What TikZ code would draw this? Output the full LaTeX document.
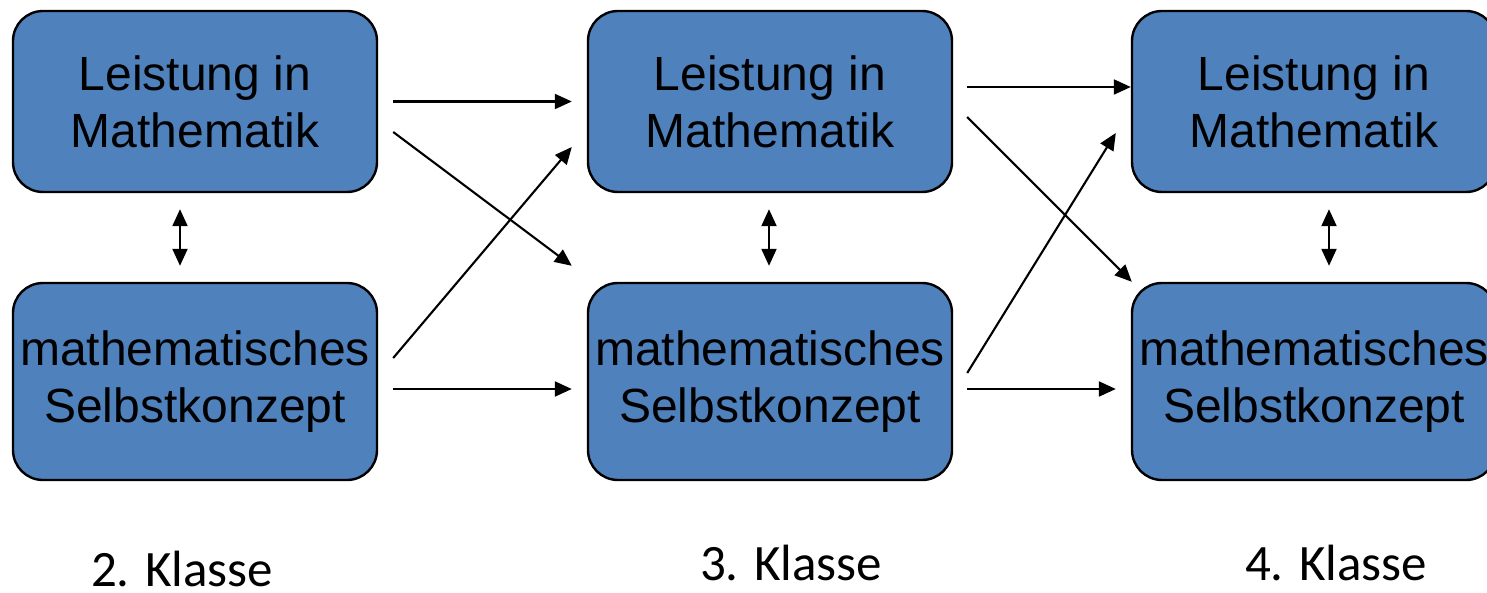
\documentclass[tikz,border=0pt]{standalone}
\usepackage{fontspec}
\setmainfont{Liberation Sans}
\newfontfamily\calibrifont{Carlito}
\usetikzlibrary{arrows.meta}
\definecolor{boxblue}{HTML}{4F81BD}
\tikzset{
  box/.style={draw=black, line width=1.2pt, fill=boxblue, rounded corners=15pt,
    minimum width=182pt, inner sep=0pt, align=center,
    font=\fontsize{24}{28.5}\selectfont},
  topbox/.style={box, minimum height=90.5pt},
  botbox/.style={box, minimum height=98.5pt},
  arr/.style={line width=1.05pt, -{Triangle[length=8.5pt,width=7.5pt]}},
  darr/.style={line width=1.05pt, {Triangle[length=8.5pt,width=7.5pt]}-{Triangle[length=8.5pt,width=7.5pt]}},
  klasse/.style={anchor=base, font=\calibrifont\fontsize{25.5}{30}\selectfont}
}
\begin{document}
\begin{tikzpicture}[x=0.5pt, y=-0.5pt]
\clip (0,0) rectangle (1487,593);
\fill[white] (0,0) rectangle (1487,593);
% boxes
\node[topbox] (L2) at (195,101.5) {Leistung in\\Mathematik};
\node[botbox] (S2) at (195,381.5) {mathematisches\\Selbstkonzept};
\node[topbox] (L3) at (770,101.5) {Leistung in\\Mathematik};
\node[botbox] (S3) at (770,381.5) {mathematisches\\Selbstkonzept};
\node[topbox] (L4) at (1314,101.5) {Leistung in\\Mathematik};
\node[botbox] (S4) at (1314,381.5) {mathematisches\\Selbstkonzept};
% vertical double arrows
\draw[darr] ([shift={(-15,16)}]L2.south) -- ([shift={(-15,-16)}]S2.north);
\draw[darr] ([shift={(-1,16)}]L3.south) -- ([shift={(-1,-16)}]S3.north);
\draw[darr] ([shift={(15,16)}]L4.south) -- ([shift={(15,-16)}]S4.north);
% class 2 -> class 3
\draw[arr] ([shift={(15,0)}]L2.east) -- ([shift={(-15,0)}]L3.west);
\draw[arr] ([shift={(15,30.5)}]L2.east) -- ([shift={(-15,-16)}]S3.north west);
\draw[arr] ([shift={(15,-23.5)}]S2.east) -- ([shift={(-15,45.5)}]L3.west);
\draw[arr] ([shift={(15,7.5)}]S2.east) -- ([shift={(-15,7.5)}]S3.west);
% class 3 -> class 4
\draw[arr] ([shift={(14,-14.5)}]L3.east) -- ([shift={(0,-14.5)}]L4.west);
\draw[arr] ([shift={(14,15.5)}]L3.east) -- ([shift={(1,0)}]S4.north west);
\draw[arr] ([shift={(14,-8.5)}]S3.east) -- ([shift={(-15,31.5)}]L4.west);
\draw[arr] ([shift={(14,7.5)}]S3.east) -- ([shift={(-15,7.5)}]S4.west);
% labels
\node[klasse] (K2) at (182,586) {2. Klasse};
\node[klasse] (K3) at (791,580) {3. Klasse};
\node[klasse] (K4) at (1336,580) {4. Klasse};
\end{tikzpicture}
\end{document}
